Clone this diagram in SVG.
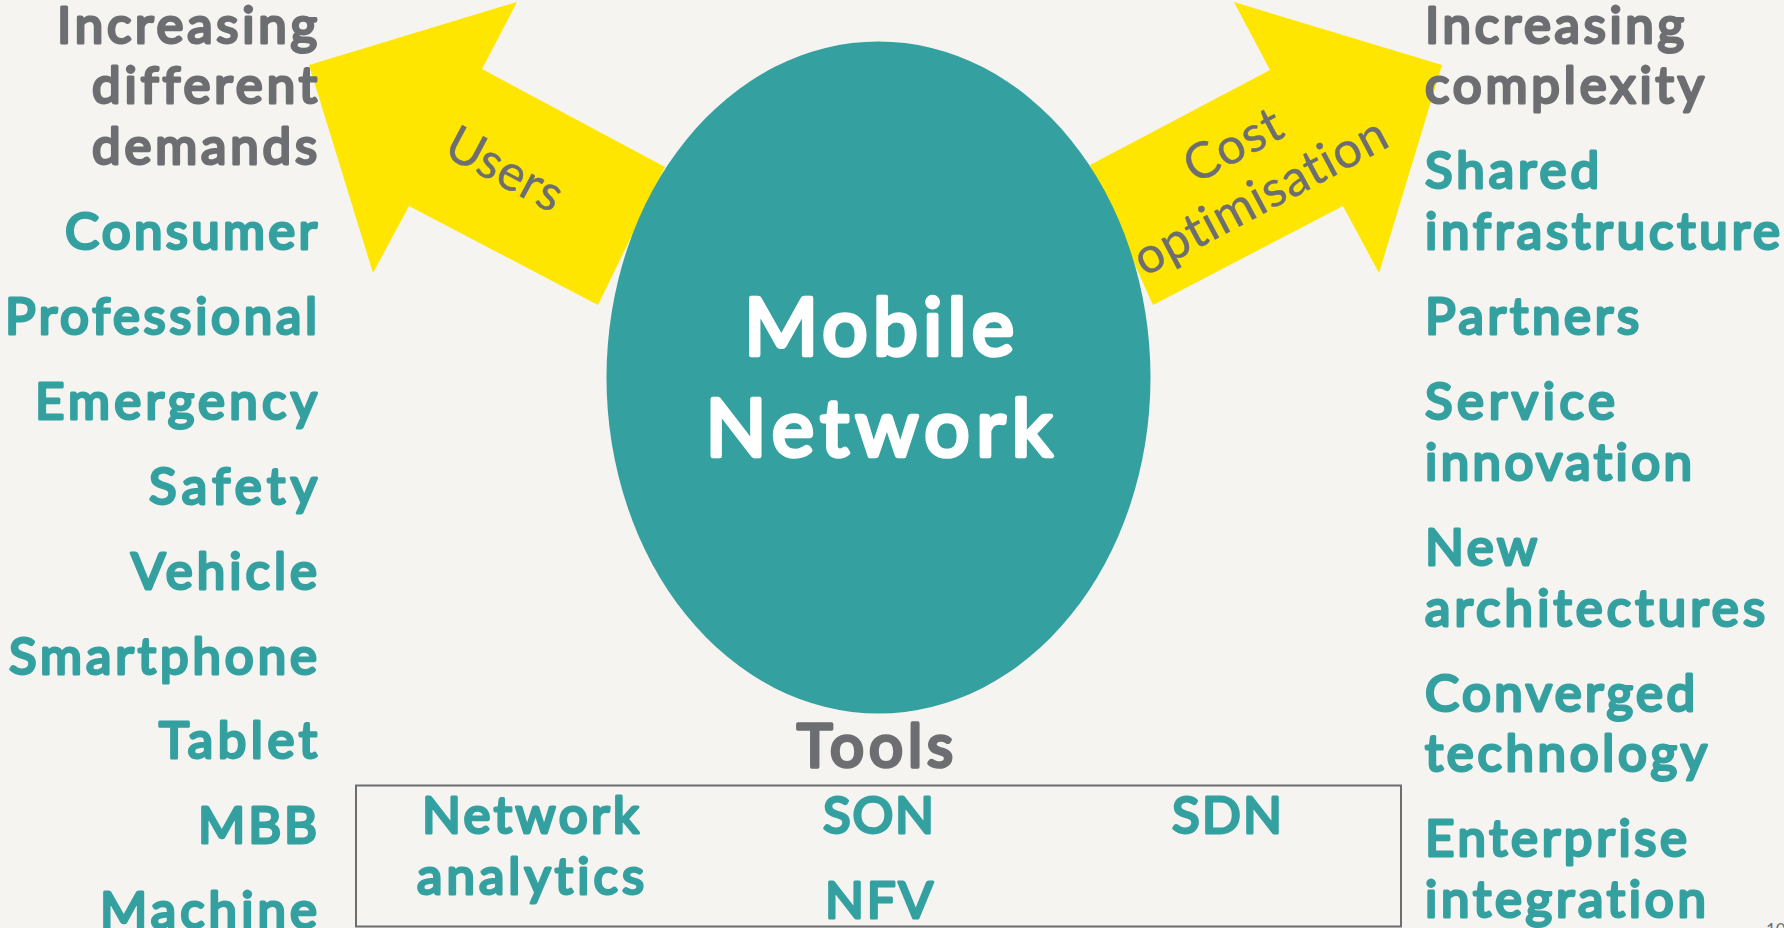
<svg xmlns="http://www.w3.org/2000/svg" width="1784" height="928" viewBox="0 0 1784 928">
<style>
text{font-family:"Lato","Open Sans","Liberation Sans",sans-serif;font-weight:400;font-size:51px;stroke-width:3;stroke-linejoin:round;stroke-linecap:round;font-variant-ligatures:none}
.t{fill:#34a0a0;stroke:#34a0a0}
.g{fill:#6d6e71;stroke:#6d6e71}
.e{text-anchor:end}
.m{text-anchor:middle}
.a{font-size:50px;stroke-width:.4;stroke:#6d6e71;fill:#6d6e71}
.w{font-size:80px;fill:#fff;stroke:#fff;stroke-width:4.5;text-anchor:middle}
.y{fill:#ffe600}
</style>
<rect width="1784" height="928" fill="#f5f4f0"/>
<g id="connectors">
<polygon class="y" points="309,65 517,2 482,69 665,167 598,305 409,206 373,273"/>
<polygon class="y" points="1442,65 1234,2 1270,70 1090,165 1153,305 1343,206 1379,273"/>
</g>
<g id="mobile-network">
<ellipse cx="878.5" cy="377.5" rx="272" ry="336" fill="#34a0a0"/>
<text class="w" x="879" y="355" textLength="270">Mobile</text>
<text class="w" x="879" y="456" textLength="347">Network</text>
</g>
<g id="users-label"><text class="a m" transform="translate(505,169) rotate(28)" y="17" textLength="125">Users</text></g>
<g id="cost-label">
<text class="a m" transform="translate(1233,145) rotate(-28)" y="17" textLength="104">Cost</text>
<text class="a m" transform="translate(1261,198) rotate(-28)" y="15" textLength="280">optimisation</text>
</g>
<g id="users-list">
<text class="g e" x="317" y="43" textLength="260">Increasing</text>
<text class="g e" x="317" y="103" textLength="225">different</text>
<text class="g e" x="317" y="164" textLength="225">demands</text>
<text class="t e" x="317" y="249" textLength="252">Consumer</text>
<text class="t e" x="317" y="334" textLength="312">Professional</text>
<text class="t e" x="317" y="419" textLength="282">Emergency</text>
<text class="t e" x="317" y="504" textLength="168">Safety</text>
<text class="t e" x="317" y="589" textLength="186">Vehicle</text>
<text class="t e" x="317" y="674" textLength="308">Smartphone</text>
<text class="t e" x="317" y="758" textLength="158">Tablet</text>
<text class="t e" x="317" y="843" textLength="119">MBB</text>
<text class="t e" x="317" y="928" textLength="217">Machine</text>
</g>
<g id="complexity-list">
<text class="g" x="1425" y="43" textLength="259">Increasing</text>
<text class="g" x="1425" y="103" textLength="279">complexity</text>
<text class="t" x="1425" y="188" textLength="174">Shared</text>
<text class="t" x="1425" y="249" textLength="355">infrastructure</text>
<text class="t" x="1425" y="334" textLength="214">Partners</text>
<text class="t" x="1425" y="419" textLength="190">Service</text>
<text class="t" x="1425" y="480" textLength="267">innovation</text>
<text class="t" x="1425" y="565" textLength="112">New</text>
<text class="t" x="1425" y="626" textLength="340">architectures</text>
<text class="t" x="1425" y="711" textLength="270">Converged</text>
<text class="t" x="1425" y="771" textLength="282">technology</text>
<text class="t" x="1425" y="856" textLength="262">Enterprise</text>
<text class="t" x="1425" y="917" textLength="281">integration</text>
</g>
<g id="tools">
<text class="g" x="797" y="767" style="font-size:60px;stroke-width:3.6" textLength="156">Tools</text>
<rect x="356" y="785.5" width="1045" height="141" fill="none" stroke="#6d6e71" stroke-width="2"/>
<text class="t" x="422" y="833" textLength="217">Network</text>
<text class="t" x="417" y="894" textLength="227">analytics</text>
<text class="t" x="823" y="833" textLength="111">SON</text>
<text class="t" x="1172" y="833" textLength="110">SDN</text>
<text class="t" x="825" y="918" textLength="108">NFV</text>
</g>
<g id="page-number"><text x="1766" y="936" style="font-size:17px;fill:#6d6e71;stroke:none">10</text></g>
</svg>
